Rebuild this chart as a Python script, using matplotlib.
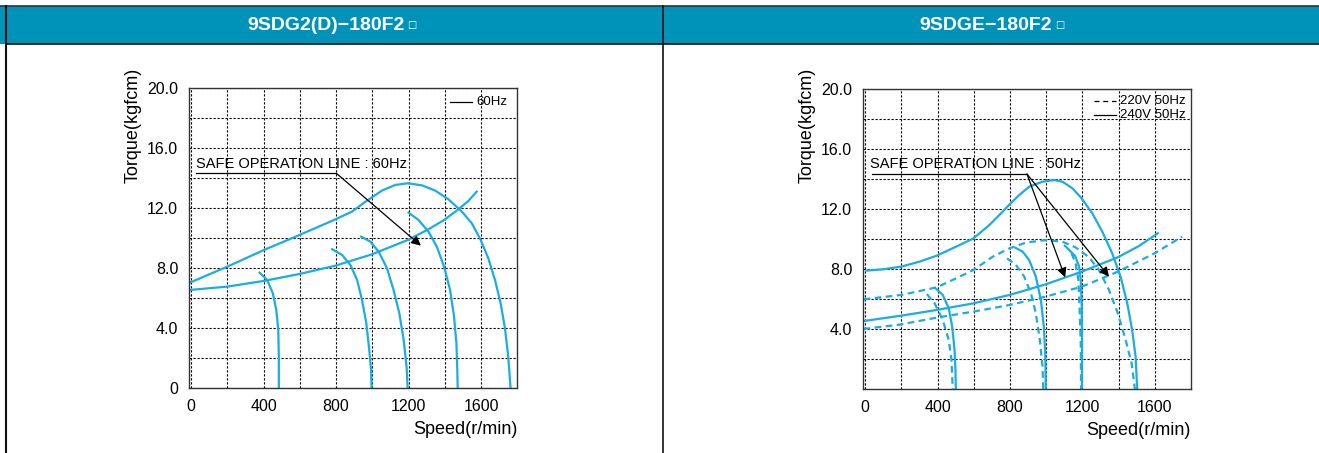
import numpy as np
import matplotlib
matplotlib.use("Agg")
from matplotlib import pyplot as plt
from matplotlib.patches import Rectangle
from matplotlib.lines import Line2D
from matplotlib.text import Annotation

plt.rcParams['font.family'] = ['Liberation Sans', 'DejaVu Sans']

titles = ["9SDG2(D)\u2212180F2", "9SDGE\u2212180F2"]
xtick_vals = [0, 400, 800, 1200, 1600]
xtick_labels = ["0", "400", "800", "1200", "1600"]
ytick_vals_left = [0, 4, 8, 12, 16, 20]
ytick_labels_left = ["0", "4.0", "8.0", "12.0", "16.0", "20.0"]
ytick_vals_right = [4, 8, 12, 16, 20]
ytick_labels_right = ["4.0", "8.0", "12.0", "16.0", "20.0"]

# ---- left chart: 60Hz ----
L_top_x = [-2, 200, 402, 598, 798, 888, 962, 1053, 1127, 1196, 1274, 1347, 1420, 1494, 1549,
           1598, 1640, 1677, 1708, 1732, 1750, 1763]
L_top_y = [7.07, 8.11, 9.22, 10.22, 11.27, 11.78, 12.44, 13.18, 13.56, 13.67, 13.53, 13.18, 12.6,
           11.78, 11.0, 9.89, 8.67, 7.22, 5.67, 4.0, 2.11, 0.0]
L_safe_x = [-2, 200, 402, 598, 798, 998, 1196, 1310, 1396, 1475, 1530, 1576]
L_safe_y = [6.56, 6.78, 7.16, 7.62, 8.18, 8.93, 9.89, 10.6, 11.22, 11.93, 12.49, 13.11]
L_drops = [
    ([378, 420, 451, 470, 481, 484, 484], [7.71, 7.22, 6.33, 5.22, 3.89, 2.11, 0.0]),
    ([778, 833, 879, 916, 943, 967, 983, 993, 996], [9.27, 8.89, 8.22, 7.22, 5.89, 4.33, 2.56, 1.22, 0.0]),
    ([938, 989, 1035, 1081, 1117, 1149, 1173, 1189, 1195], [10.11, 9.78, 9.11, 8.0, 6.56, 5.0, 3.22, 1.44, 0.0]),
    ([1200, 1255, 1310, 1356, 1396, 1429, 1451, 1464, 1469, 1471], [11.71, 11.22, 10.44, 9.44, 8.11, 6.56, 4.78, 3.0, 1.22, 0.0]),
]

# ---- right chart: 50Hz, 240V solid / 220V dashed ----
R_top240_x = [7, 99, 200, 301, 396, 503, 598, 686, 760, 798, 851, 907, 980, 1044, 1090, 1145, 1196,
              1255, 1310, 1365, 1411, 1448, 1475, 1494, 1503]
R_top240_y = [7.89, 7.98, 8.16, 8.49, 8.89, 9.49, 10.04, 10.93, 11.82, 12.31, 12.93, 13.49, 13.82,
              13.93, 13.82, 13.38, 12.71, 11.71, 10.49, 9.04, 7.49, 5.71, 3.93, 2.16, 0.0]
R_safe240_x = [-8, 200, 396, 598, 798, 998, 1196, 1396, 1512, 1617]
R_safe240_y = [4.53, 4.89, 5.27, 5.71, 6.27, 6.98, 7.82, 8.78, 9.53, 10.38]
R_drops240 = [
    ([389, 429, 462, 481, 494, 499, 501], [6.71, 6.27, 5.38, 4.16, 2.6, 1.27, 0.0]),
    ([829, 870, 906, 943, 971, 987, 995, 998], [9.42, 9.16, 8.6, 7.49, 5.93, 4.16, 2.38, 0.0]),
    ([1127, 1160, 1182, 1191, 1196, 1198, 1198], [9.27, 8.87, 8.16, 7.27, 5.71, 3.49, 0.0]),
]
R_top220_x = [-8, 200, 396, 503, 598, 705, 798, 888, 998, 1090, 1163, 1237, 1292, 1347, 1396,
              1439, 1472, 1490]
R_top220_y = [5.98, 6.27, 6.78, 7.38, 7.93, 8.82, 9.38, 9.76, 9.93, 9.82, 9.44, 8.78, 7.93, 6.6,
              5.04, 3.27, 1.71, 0.0]
R_safe220_x = [-8, 200, 396, 598, 798, 998, 1196, 1396, 1598, 1751]
R_safe220_y = [4.0, 4.31, 4.76, 5.16, 5.6, 6.16, 6.82, 7.82, 9.04, 10.16]
R_drops220 = [
    ([341, 384, 429, 462, 477, 484], [6.33, 5.71, 4.6, 3.27, 1.93, 0.0]),
    ([784, 833, 879, 916, 943, 965, 980, 984], [8.71, 8.27, 7.49, 6.38, 5.04, 3.27, 1.49, 0.0]),
    ([1099, 1136, 1163, 1178, 1185, 1191, 1193], [9.6, 9.16, 8.38, 7.27, 5.27, 3.04, 0.0]),
]

blue = "#1AADE2"
lw = 1.6

fig = plt.figure(figsize=(13.19, 4.53), dpi=100)
W, H = 1319.0, 453.0

# header bars and panel borders
fig.patches.append(Rectangle((0, 1 - 44 / H), 1, 38 / H, transform=fig.transFigure,
                             facecolor="#0093B9", edgecolor="none", zorder=0))
fig.add_artist(Line2D([0, 1], [1 - 5.5 / H] * 2, color="#333333", lw=1.2))
fig.add_artist(Line2D([6 / W, 1], [1 - 44 / H] * 2, color="#111111", lw=1.2))
fig.add_artist(Line2D([6 / W] * 2, [0, 1 - 5.5 / H], color="#111111", lw=1.5))
fig.add_artist(Line2D([663 / W] * 2, [0, 1 - 5.5 / H], color="#111111", lw=1.2))
for cx, t in zip([326, 986], titles):
    tt = fig.text(cx / W, 1 - 25 / H, t, color="white", fontsize=14, fontweight="bold",
                  ha="center", va="center")
    # small box glyph right after the model name
    fig.add_artist(Annotation("\u25a1", xy=(1.0, 0.5), xycoords=tt,
                              xytext=(2, 0), textcoords="offset points",
                              color="white", fontsize=7, family=["DejaVu Sans"],
                              ha="left", va="center"))

ax1 = fig.add_axes([189.3 / W, 1 - 388.3 / H, 328 / W, 300 / H])
ax2 = fig.add_axes([863.3 / W, 1 - 389 / H, 327.7 / W, 300 / H])

for ax in (ax1, ax2):
    ax.set_xlim(-10, 1800)
    ax.set_ylim(0, 20)
    ax.set_xticks(np.arange(200, 1800, 200), minor=True)
    ax.set_yticks(np.arange(2, 20, 2), minor=True)
    ax.grid(True, which="both", color="k", ls=(0, (2, 1.6)), lw=0.8)
    ax.set_axisbelow(True)
    ax.tick_params(which="both", length=0, labelsize=11.5, pad=8)
    ax.set_xticks(xtick_vals)
    ax.set_xticklabels(xtick_labels)
    for s in ax.spines.values():
        s.set_linewidth(1.0)
        s.set_color("#333333")
    ax.text(-0.172, 0.878, "Torque(kgfcm)", rotation=90, ha="center", va="center",
            fontsize=13, transform=ax.transAxes)
    ax.text(1.0, -0.137, "Speed(r/min)", ha="right", va="center",
            fontsize=13, transform=ax.transAxes)

ax1.set_yticks(ytick_vals_left)
ax1.set_yticklabels(ytick_labels_left)
ax2.set_yticks(ytick_vals_right)
ax2.set_yticklabels(ytick_labels_right)

# left curves
ax1.plot(L_top_x, L_top_y, color=blue, lw=lw)
ax1.plot(L_safe_x, L_safe_y, color=blue, lw=lw)
for dx, dy in L_drops:
    ax1.plot(dx, dy, color=blue, lw=lw)

ax1.plot([1430, 1551], [19.07, 19.07], color="k", lw=0.9)
ax1.text(1576, 19.07, "60Hz", fontsize=9.5, va="center", ha="left")
ax1.text(26, 14.97, "SAFE OPERATION LINE : 60Hz", fontsize=10.5, va="center", ha="left")
ax1.plot([26, 802], [14.33, 14.33], color="k", lw=0.9)
ax1.annotate("", xy=(1268, 9.51), xytext=(802, 14.33),
             arrowprops=dict(arrowstyle="-|>", color="k", lw=0.9, mutation_scale=14,
                             shrinkA=0, shrinkB=0))

# right curves
ax2.plot(R_top240_x, R_top240_y, color=blue, lw=lw)
ax2.plot(R_safe240_x, R_safe240_y, color=blue, lw=lw)
for dx, dy in R_drops240:
    ax2.plot(dx, dy, color=blue, lw=lw)
dash = (0, (3, 2))
ax2.plot(R_top220_x, R_top220_y, color=blue, lw=lw, ls=dash)
ax2.plot(R_safe220_x, R_safe220_y, color=blue, lw=lw, ls=dash)
for dx, dy in R_drops220:
    ax2.plot(dx, dy, color=blue, lw=lw, ls=dash)

ax2.plot([1264, 1385], [19.22, 19.22], color="k", lw=0.9, ls=(0, (4, 3)))
ax2.text(1410, 19.22, "220V 50Hz", fontsize=9.5, va="center", ha="left")
ax2.plot([1264, 1385], [18.27, 18.27], color="k", lw=0.9)
ax2.text(1410, 18.27, "240V 50Hz", fontsize=9.5, va="center", ha="left")
ax2.text(27, 14.97, "SAFE OPERATION LINE : 50Hz", fontsize=10.5, va="center", ha="left")
ax2.plot([37, 894], [14.33, 14.33], color="k", lw=0.9)
for tip in [(1105, 7.44), (1347, 7.49)]:
    ax2.annotate("", xy=tip, xytext=(894, 14.33),
                 arrowprops=dict(arrowstyle="-|>", color="k", lw=0.9, mutation_scale=14,
                                 shrinkA=0, shrinkB=0))

plt.savefig("out.png", dpi=100)
